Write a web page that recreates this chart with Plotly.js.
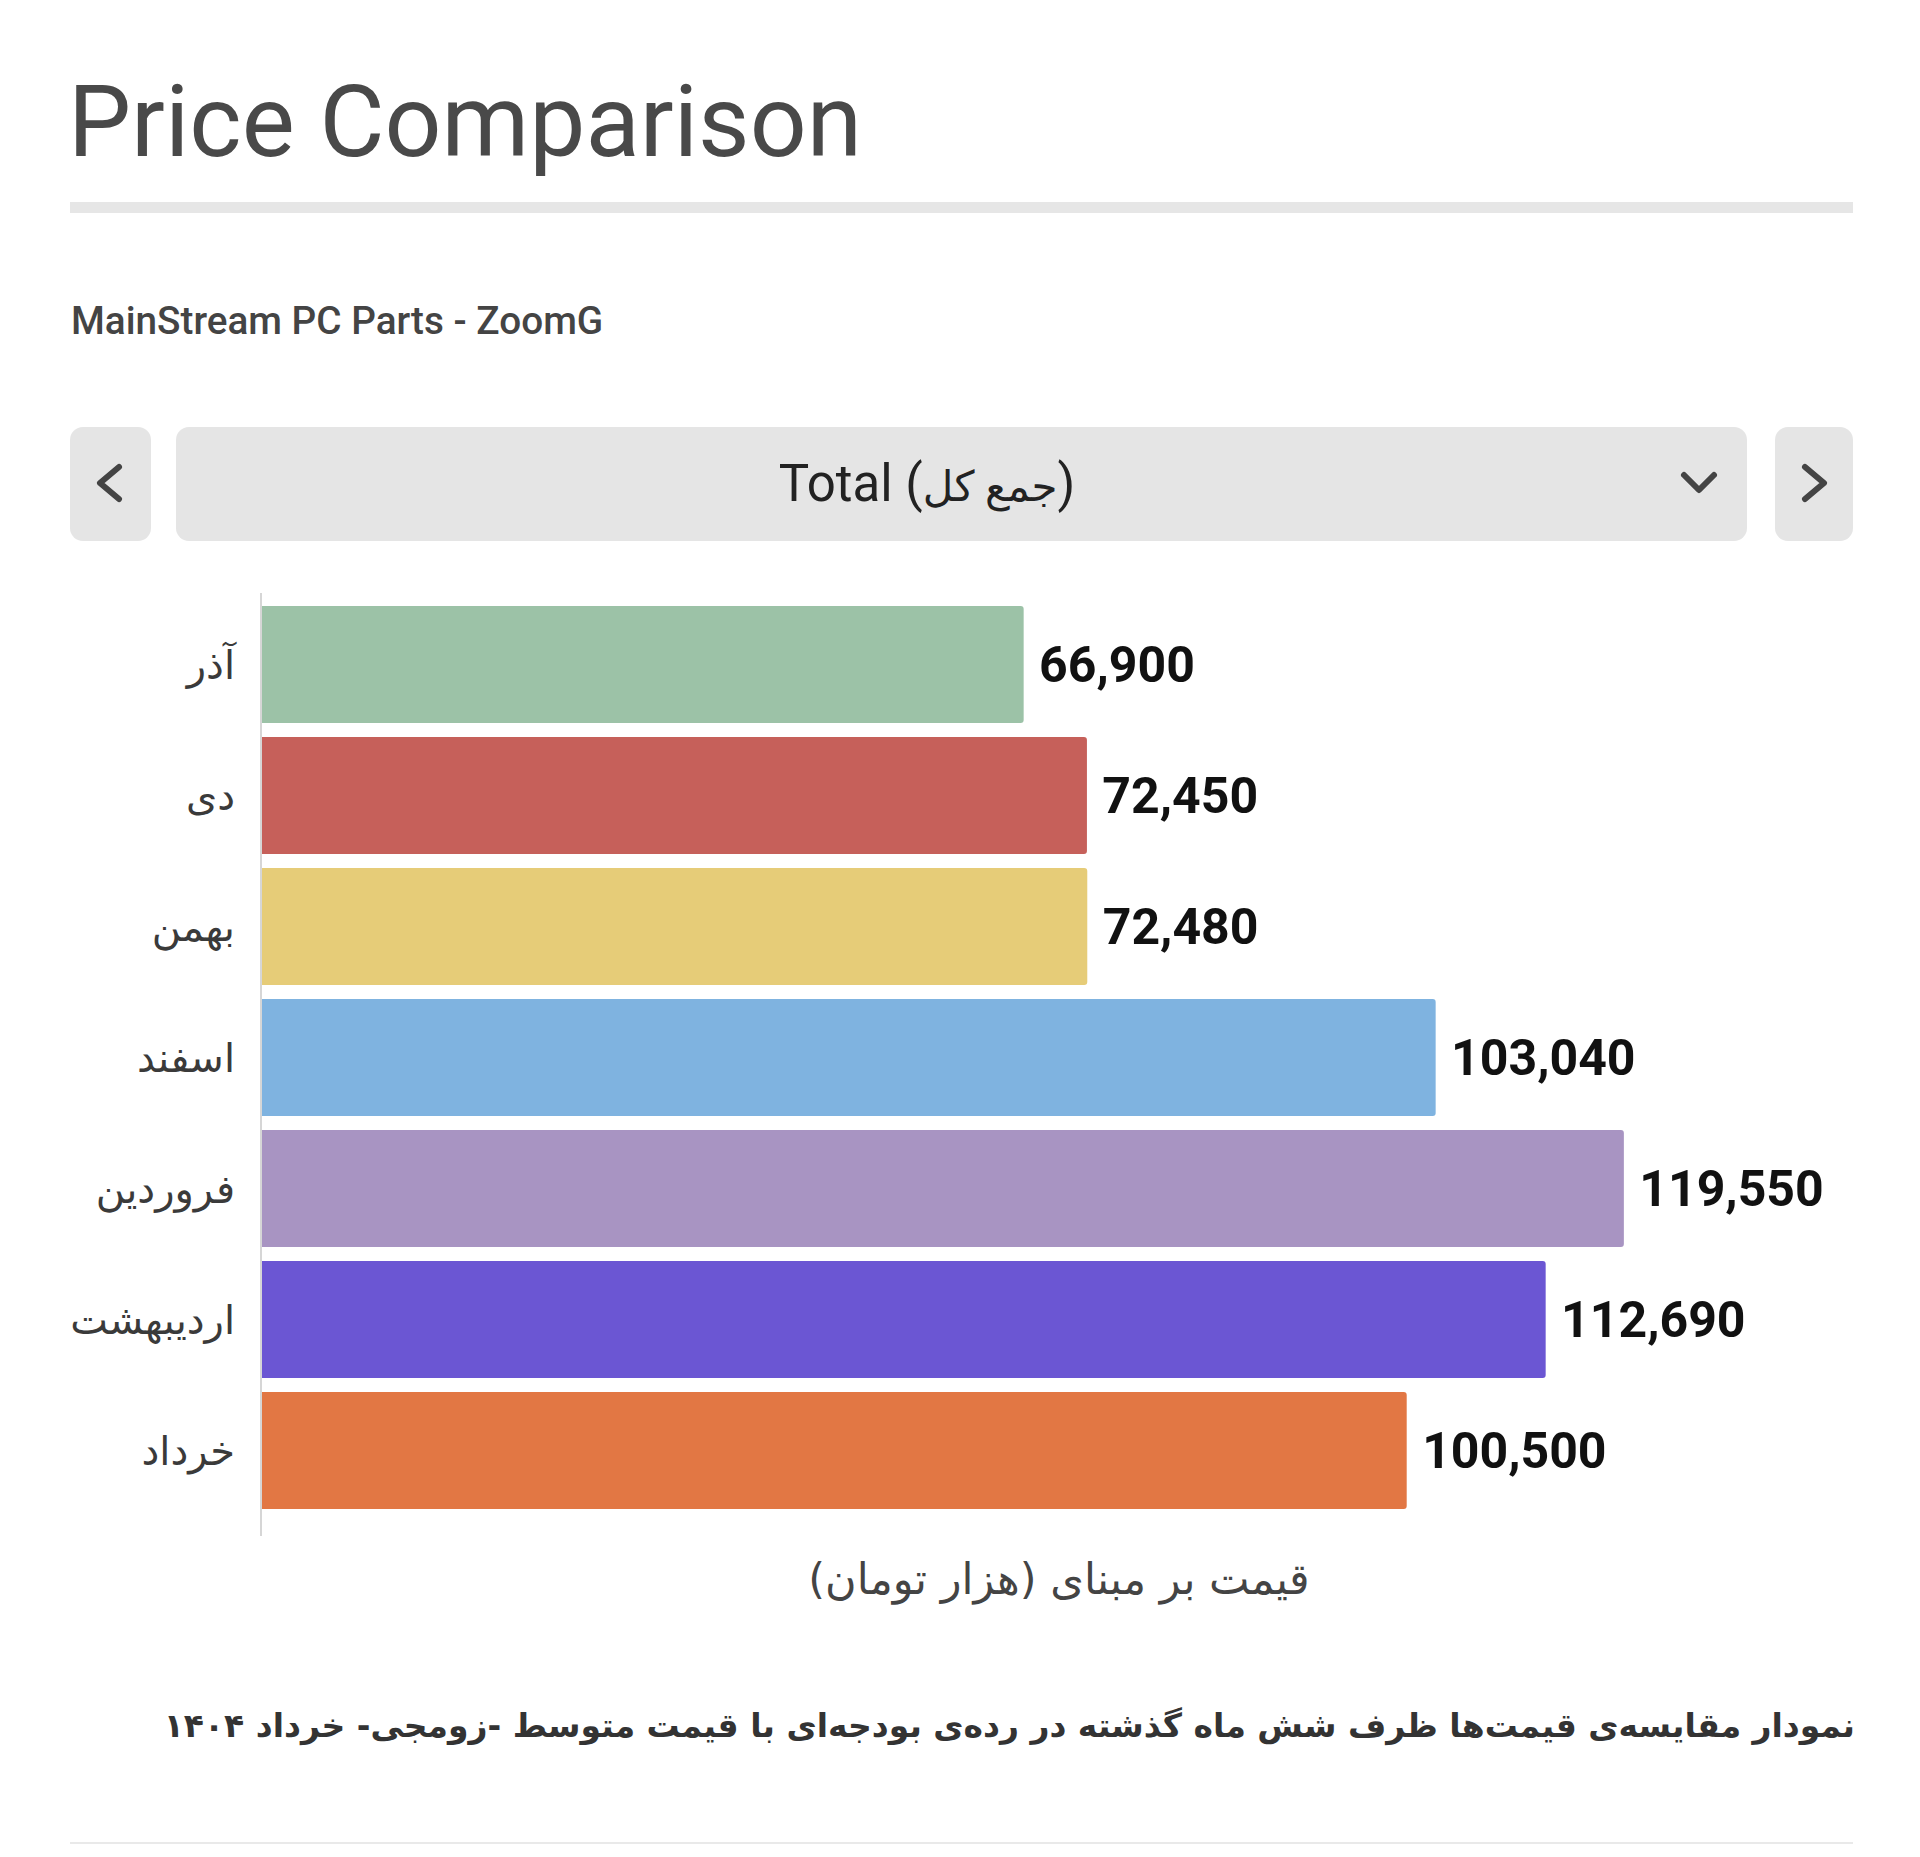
<!DOCTYPE html>
<html>
<head>
<meta charset="utf-8">
<script src="https://cdn.plot.ly/plotly-3.0.1.min.js"></script>
<style>
  body { margin: 0; background: #fff; font-family: Roboto, "DejaVu Sans", sans-serif; }
  #page { position: relative; width: 1920px; height: 1857px; overflow: hidden; }
  #graph_area { position: absolute; left: 0; top: 0; width: 1920px; height: 1857px; }
  .abs { position: absolute; }
  #title { left: 68px; top: 62px; font-size: 100px; color: #494949; line-height: 120px; white-space: nowrap; }
  #rule1 { left: 70px; top: 202px; width: 1783px; height: 11px; background: #e6e6e6; }
  #subtitle { left: 71px; top: 298px; font-size: 38.7px; font-weight: 500; color: #444; white-space: nowrap; }
  .box { background: #e5e5e5; border-radius: 13px; top: 427px; height: 114px; }
  #btnL { left: 70px; width: 81px; }
  #btnR { left: 1775px; width: 78px; }
  #drop { left: 176px; width: 1571px; }
  #dropText { left: 0; top: 0; width: 1502px; line-height: 114px; text-align: center; font-size: 51px; color: #222; white-space: nowrap; }
  #dropText span { font-size: 42px; }
  .box svg { position: absolute; left: 0; top: 0; }
  #caption { right: 65px; top: 1706px; font-family: "DejaVu Sans", sans-serif; font-weight: bold; font-size: 33px; color: #333; white-space: nowrap; }
  #rule2 { left: 70px; top: 1842px; width: 1783px; height: 2px; background: #e9e9e9; }
</style>
</head>
<body>
<div id="page">
  <div id="graph_area"></div>
  <div id="title" class="abs">Price Comparison</div>
  <div id="rule1" class="abs"></div>
  <div id="subtitle" class="abs">MainStream PC Parts - ZoomG</div>
  <div id="btnL" class="abs box">
    <svg width="81" height="114"><polyline points="49,40 30,56 49,72" fill="none" stroke="#444" stroke-width="6" stroke-linecap="round" stroke-linejoin="round"/></svg>
  </div>
  <div id="drop" class="abs box">
    <div id="dropText" class="abs">Total (<span>جمع کل</span>)</div>
    <svg width="1571" height="114"><polyline points="1508,48 1523,63 1538,48" fill="none" stroke="#444" stroke-width="6" stroke-linecap="round" stroke-linejoin="round"/></svg>
  </div>
  <div id="btnR" class="abs box">
    <svg width="78" height="114"><polyline points="30,40 49,56 30,72" fill="none" stroke="#444" stroke-width="6" stroke-linecap="round" stroke-linejoin="round"/></svg>
  </div>
  <div id="caption" class="abs" dir="rtl">نمودار مقایسه‌ی قیمت‌ها ظرف شش ماه گذشته در رده‌ی بودجه‌ای با قیمت متوسط -زومجی- خرداد ۱۴۰۴</div>
  <div id="rule2" class="abs"></div>
</div>
<script>
// months, top to bottom
const months = ["آذر", "دی", "بهمن", "اسفند", "فروردین", "اردیبهشت", "خرداد"];
// total price, thousand toman
const prices = [66900, 72450, 72480, 103040, 119550, 112690, 100500];
const barColors = ["#9cc2a7", "#c6605a", "#e6cc78", "#7fb3e0", "#a894c2", "#6b56d3", "#e27744"];
const xTitle = "قیمت بر مبنای (هزار تومان)";

const W = 1920, H = 1857;
const plotL = 261, plotR = 1857, plotT = 599, plotB = 1516;

Plotly.newPlot("graph_area", [{
    type: "bar",
    orientation: "h",
    y: months,
    x: prices,
    marker: { color: barColors, cornerradius: 3 },
    texttemplate: "\u00A0%{x:,}",
    textposition: "outside",
    cliponaxis: false,
    textfont: { family: "Roboto", size: 50, color: "#111", weight: 700 },
    hoverinfo: "none",
}], {
    width: W,
    height: H,
    margin: { l: plotL, r: W - plotR, t: plotT, b: H - plotB, pad: 0 },
    paper_bgcolor: "rgba(0,0,0,0)",
    plot_bgcolor: "rgba(0,0,0,0)",
    showlegend: false,
    bargap: 0.107,
    xaxis: {
        range: [0, 140000],
        showgrid: false,
        zeroline: false,
        showticklabels: false,
        showline: false,
        ticks: "",
        fixedrange: true,
        title: {
            text: xTitle,
            standoff: 47,
            font: { family: "DejaVu Sans", size: 43, color: "#444" },
        },
        automargin: false,
    },
    yaxis: {
        autorange: "reversed",
        showgrid: false,
        zeroline: false,
        showline: false,
        ticks: "",
        ticklabelstandoff: 25,
        tickfont: { family: "DejaVu Sans", size: 40, color: "#3a3a3a" },
        automargin: false,
        fixedrange: true,
    },
    shapes: [{
        type: "line",
        xref: "paper", yref: "paper",
        x0: 0, x1: 0,
        y0: (plotB - 1536) / (plotB - plotT),
        y1: (plotB - 593) / (plotB - plotT),
        line: { color: "#d6d6d6", width: 2 },
    }],
}, { displayModeBar: false, staticPlot: true });
</script>
</body>
</html>
